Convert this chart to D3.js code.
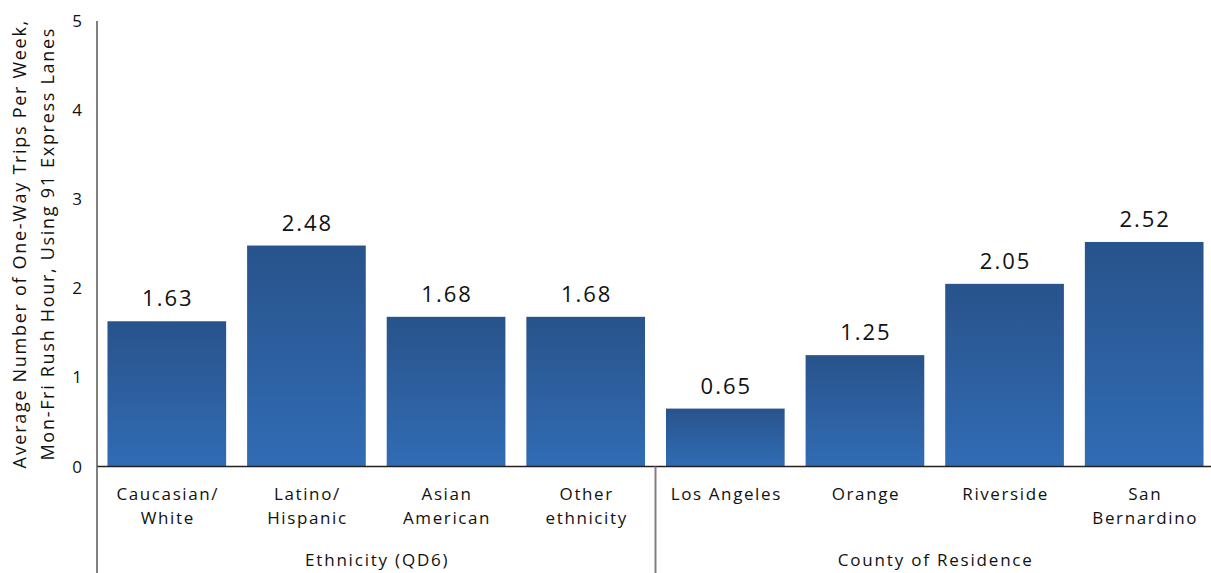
<!DOCTYPE html>
<html><head><meta charset="utf-8">
<script src="https://cdn.jsdelivr.net/npm/d3@7"></script>
<style>body{margin:0;background:#fff}svg{display:block}text{font-family:"Open Sans","DejaVu Sans",sans-serif;fill:#111}</style>
</head><body>
<svg id="c" width="1211" height="573"></svg>
<script>
const categories = [["Caucasian/","White"],["Latino/","Hispanic"],["Asian","American"],["Other","ethnicity"],["Los Angeles"],["Orange"],["Riverside"],["San","Bernardino"]];
const values = [1.63, 2.48, 1.68, 1.68, 0.65, 1.25, 2.05, 2.52];
const valueLabels = ["1.63","2.48","1.68","1.68","0.65","1.25","2.05","2.52"];
const groups = [{name:"Ethnicity (QD6)", start:0, end:4},{name:"County of Residence", start:4, end:8}];
const yTicks = [0,1,2,3,4,5];
const yTitle = ["Average Number of One-Way Trips Per Week,","Mon-Fri Rush Hour, Using 91 Express Lanes"];

(function(){
const svg = d3.select("#c");
const L = 97, R = 1214, T = 21, B = 466.5;
const ids = values.map((d,i)=>i);
const x = d3.scaleBand().domain(ids).range([L,R]).paddingInner(0.15).paddingOuter(0.075);
const y = d3.scaleLinear().domain([0,5]).range([B, T]);

const defs = svg.append("defs");
const g = defs.append("linearGradient").attr("id","bg").attr("x1",0).attr("y1",0).attr("x2",0).attr("y2",1);
g.append("stop").attr("offset","0%").attr("stop-color","#28538b");
g.append("stop").attr("offset","100%").attr("stop-color","#316cb5");

svg.selectAll("rect.bar").data(values).join("rect").attr("class","bar")
  .attr("x",(d,i)=>x(i)).attr("width",x.bandwidth())
  .attr("y",d=>y(d)).attr("height",d=>B-y(d)).attr("fill","url(#bg)");

svg.selectAll("text.val").data(values).join("text").attr("class","val")
  .attr("x",(d,i)=>x(i)+x.bandwidth()/2+1).attr("y",d=>y(d)-15)
  .attr("text-anchor","middle").attr("font-size",22).attr("letter-spacing",2).text((d,i)=>valueLabels[i]);

svg.append("line").attr("x1",L).attr("x2",L).attr("y1",T).attr("y2",573).attr("stroke","#808080").attr("stroke-width",2);
svg.selectAll("text.yt").data(yTicks).join("text").attr("class","yt")
  .attr("x",82).attr("y",d=>y(d)+6).attr("text-anchor","end").attr("font-size",17).text(d=>d);
svg.append("line").attr("x1",L).attr("x2",R).attr("y1",B).attr("y2",B).attr("stroke","#222").attr("stroke-width",1.5);

const yt = svg.append("text").attr("transform","translate(26,"+((T+B)/2)+") rotate(-90)").attr("text-anchor","middle").attr("font-size",18).attr("letter-spacing",1.7);
yTitle.forEach((t,i)=>yt.append("tspan").attr("x",0).attr("dy",i?28:0).text(t));

categories.forEach((lines,i)=>{
  const cx = x(i)+x.bandwidth()/2+1;
  const t = svg.append("text").attr("x",cx).attr("y",500).attr("text-anchor","middle").attr("font-size",17).attr("letter-spacing",1.6);
  lines.forEach((l,j)=>t.append("tspan").attr("x",cx).attr("dy",j?24:0).text(l));
});

groups.forEach(gr=>{
  const xs = gr.start===0 ? L : (x(gr.start-1)+x.bandwidth()+x(gr.start))/2;
  const xe = gr.end===values.length ? R : (x(gr.end-1)+x.bandwidth()+x(gr.end))/2;
  svg.append("line").attr("x1",xs).attr("x2",xs).attr("y1",B).attr("y2",573).attr("stroke","#808080").attr("stroke-width",2);
  svg.append("text").attr("x",(xs+xe)/2+1).attr("y",566).attr("text-anchor","middle").attr("font-size",17).attr("letter-spacing",1.8).text(gr.name);
});
})();
</script>
</body></html>
